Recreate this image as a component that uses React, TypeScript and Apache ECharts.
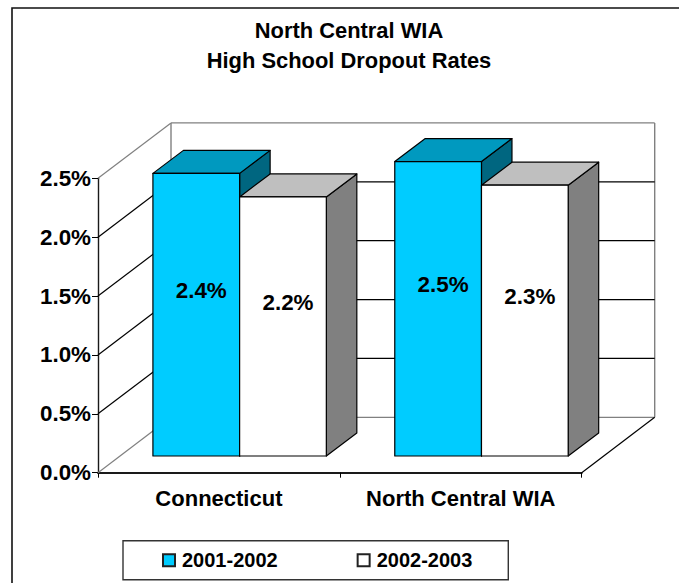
import React, { useEffect, useRef } from "react";
import * as echarts from "echarts";

const categories = ["Connecticut", "North Central WIA"];
const values2001 = [2.4, 2.5];
const values2002 = [2.2, 2.3];
const axisTicks = [0, 0.5, 1.0, 1.5, 2.0, 2.5];
const titleText = "North Central WIA\nHigh School Dropout Rates";
const FONT = '"Liberation Sans", Arial, sans-serif';
const WALL_DX = 73;
const WALL_DY = 55.4;
const BAR_DX = 20.7;
const BAR_DY = 16.7;
const DEPTH_X = 30.5;
const DEPTH_Y = 23;
const BAR_RATIO = 0.3585;
const GRAY = "#808080";
const INK = "#000000";

const poly = (points: number[][], fill: string) => ({
  type: "polygon",
  shape: { points },
  style: { fill, stroke: INK, lineWidth: 1.2, lineJoin: "round" },
});

const seg = (x1: number, y1: number, x2: number, y2: number, color: string, w = 1.2) => ({
  type: "line",
  shape: { x1, y1, x2, y2 },
  style: { stroke: color, lineWidth: w, fill: "none" },
});

const barRenderer = (slot: number, front: string, top: string, side: string) => (params: any, api: any) => {
  const cat = api.value(0);
  const v = api.value(1);
  const [cx, yv] = api.coord([cat, v]);
  const y0 = api.coord([cat, 0])[1];
  const w = api.size([1, 0])[0] * BAR_RATIO;
  const xl = cx + BAR_DX + (slot - 1) * w;
  const xr = xl + w;
  const yt = yv - BAR_DY;
  const yb = y0 - BAR_DY;
  return {
    type: "group",
    children: [
      poly([[xr, yt], [xr + DEPTH_X, yt - DEPTH_Y], [xr + DEPTH_X, yb - DEPTH_Y], [xr, yb]], side),
      poly([[xl, yt], [xl + DEPTH_X, yt - DEPTH_Y], [xr + DEPTH_X, yt - DEPTH_Y], [xr, yt]], top),
      poly([[xl, yt], [xr, yt], [xr, yb], [xl, yb]], front),
      {
        type: "text",
        style: {
          text: v.toFixed(1) + "%",
          x: (xl + xr) / 2 + 5,
          y: (yt + yb) / 2 - 24,
          align: "center",
          verticalAlign: "middle",
          fontFamily: FONT,
          fontWeight: "bold",
          fontSize: 22.4,
          fill: INK,
        },
      },
    ],
  };
};

const wallRenderer = (params: any, api: any) => {
  const v = api.value(1);
  const rect = params.coordSys;
  const y = api.coord([0, v])[1];
  const x0 = rect.x;
  const xb = x0 + WALL_DX;
  const yb = y - WALL_DY;
  const xe = xb + rect.width;
  const edge = v === 0 || v === axisTicks[axisTicks.length - 1];
  const color = edge ? GRAY : INK;
  const children: any[] = [
    seg(x0, y, xb, yb, color),
    seg(xb, yb, xe, yb, color),
  ];
  if (v === 0) {
    children.push(seg(xb, yb, xb, rect.y - WALL_DY, GRAY, 1.4));
    children.push(seg(xe, yb, xe, rect.y - WALL_DY, GRAY, 1.4));
    children.push(seg(x0 + rect.width, y, xe, yb, INK));
  }
  return { type: "group", children };
};

export default function App() {
  const ref = useRef<HTMLDivElement>(null);
  useEffect(() => {
    const chart = echarts.init(ref.current!, undefined, { renderer: "svg" });
    chart.setOption({
      animation: false,
      backgroundColor: "#ffffff",
      title: {
        text: titleText,
        left: 344,
        top: 10,
        textAlign: "center",
        textStyle: { fontFamily: FONT, fontWeight: "bold", fontSize: 21.9, lineHeight: 30, color: INK },
      },
      grid: { left: 98, top: 178.3, width: 483.7, height: 294.4 },
      xAxis: {
        type: "category",
        data: categories,
        boundaryGap: true,
        axisLine: { lineStyle: { color: "#1a1a1a", width: 2 } },
        axisTick: { show: true, length: 5, interval: 0, lineStyle: { color: INK, width: 1 } },
        axisLabel: {
          interval: 0,
          hideOverlap: false,
          margin: 15,
          color: INK,
          fontFamily: FONT,
          fontWeight: "bold",
          fontSize: 22,
          overflow: "none",
          width: 300,
        },
      },
      yAxis: {
        type: "value",
        min: 0,
        max: 2.5,
        interval: 0.5,
        splitLine: { show: false },
        axisLine: { show: true, lineStyle: { color: "#1a1a1a", width: 1.4 } },
        axisTick: { show: true, length: 6, lineStyle: { color: INK, width: 1 } },
        axisLabel: {
          margin: 7,
          color: INK,
          fontFamily: FONT,
          fontWeight: "bold",
          fontSize: 22.4,
          formatter: (v: number) => v.toFixed(1) + "%",
        },
      },
      legend: {
        data: ["2001-2002", "2002-2003"],
        left: 123,
        top: 540.7,
        orient: "horizontal",
        icon: "rect",
        itemWidth: 12,
        itemHeight: 12,
        itemGap: 79,
        padding: [9.5, 36, 9.5, 39],
        borderColor: "#333333",
        borderWidth: 1.4,
        backgroundColor: "#ffffff",
        selectedMode: false,
        textStyle: { fontFamily: FONT, fontWeight: "bold", fontSize: 20, color: INK, padding: [0, 0, 2, 2] },
      },
      series: [
        {
          type: "custom",
          name: "walls",
          z: 1,
          silent: true,
          renderItem: wallRenderer,
          data: axisTicks.map((v) => [0, v]),
        },
        {
          type: "custom",
          name: "2001-2002",
          z: 2,
          renderItem: barRenderer(0, "#00CCFF", "#0099BF", "#006680"),
          itemStyle: { color: "#00CCFF", borderColor: "#222222", borderWidth: 1.2 },
          data: values2001.map((v, i) => [i, v]),
        },
        {
          type: "custom",
          name: "2002-2003",
          z: 3,
          renderItem: barRenderer(1, "#FFFFFF", "#BFBFBF", "#808080"),
          itemStyle: { color: "#FFFFFF", borderColor: "#222222", borderWidth: 1.2 },
          data: values2002.map((v, i) => [i, v]),
        },
      ],
      graphic: [
        {
          type: "polyline",
          shape: { points: [[12, 583], [12, 8], [679, 8]] },
          style: { stroke: "#111111", lineWidth: 1.6, fill: "none" },
          silent: true,
        },
      ],
    });
    return () => chart.dispose();
  }, []);
  return (
    <div
      ref={ref}
      style={{ position: "absolute", left: 0, top: 0, width: 679, height: 583 }}
    />
  );
}
